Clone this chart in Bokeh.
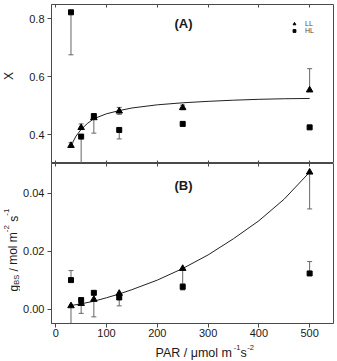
from bokeh.plotting import figure
from bokeh.layouts import column, row
from bokeh.models import (Label, LinearAxis, FixedTicker, Range1d,
                          NumeralTickFormatter, Legend, LegendItem)
from bokeh.core.properties import value
from bokeh.embed import file_html
from bokeh.resources import INLINE

# ---------------- data ----------------
par = [30, 50, 75, 125, 250, 500]

# Panel A: X
x_ll = [0.362, 0.424, 0.458, 0.481, 0.493, 0.554]
x_ll_lo = [0.362, 0.424, 0.458, 0.470, 0.486, 0.554]
x_ll_hi = [0.372, 0.437, 0.458, 0.494, 0.502, 0.628]

x_hl = [0.823, 0.393, 0.464, 0.416, 0.437, 0.425]
x_hl_lo = [0.676, 0.250, 0.405, 0.385, 0.430, 0.420]
x_hl_hi = [0.823, 0.393, 0.464, 0.416, 0.445, 0.430]

fit_par_a = [30, 40, 50, 62, 75, 100, 125, 150, 200, 250, 300, 350, 400, 450, 500]
fit_x = [0.362, 0.395, 0.418, 0.438, 0.455, 0.472, 0.483, 0.492, 0.503, 0.510,
         0.515, 0.519, 0.522, 0.524, 0.525]

# Panel B: gBS
g_ll = [0.0011, 0.0019, 0.0033, 0.0054, 0.0140, 0.0473]
g_ll_lo = [-0.0100, -0.0015, -0.0027, 0.0011, 0.0066, 0.0346]
g_ll_hi = [0.0011, 0.0019, 0.0033, 0.0054, 0.0140, 0.0473]

g_hl = [0.0100, 0.0031, 0.0056, 0.0040, 0.0077, 0.0123]
g_hl_lo = [0.0100, 0.0031, 0.0056, 0.0040, 0.0070, 0.0123]
g_hl_hi = [0.0133, 0.0036, 0.0056, 0.0050, 0.0087, 0.0164]

fit_par_b = [30, 50, 75, 100, 125, 150, 200, 250, 300, 350, 400, 450, 500]
fit_g = [0.0012, 0.0018, 0.0027, 0.0039, 0.0052, 0.0067, 0.0100, 0.0140,
         0.0187, 0.0243, 0.0305, 0.0380, 0.0473]

x_ticks = [0, 100, 200, 300, 400, 500]
ya_ticks = [0.4, 0.6, 0.8]
yb_ticks = [0.0, 0.02, 0.04]

FONT = "Liberation Sans"
AX = "#4a4a4a"
ERR = "#666666"
TXT = "#1a1a1a"
XR = (-8.4, 547)


def make_fig(height, yr, top, bottom):
    p = figure(width=317, height=height, x_range=Range1d(*XR), y_range=Range1d(*yr),
               output_backend="svg", toolbar_location=None,
               x_axis_location=None, y_axis_location=None,
               min_border_left=29, min_border_right=4,
               min_border_top=top, min_border_bottom=bottom)
    p.xgrid.visible = False
    p.ygrid.visible = False
    p.outline_line_color = AX
    p.outline_line_width = 1
    p.background_fill_color = "white"
    p.border_fill_color = "white"
    return p


def helper_fig(width, height):
    h = figure(width=width, height=height, output_backend="svg", toolbar_location=None,
               x_axis_location=None, y_axis_location=None, min_border=0)
    h.xgrid.visible = False
    h.ygrid.visible = False
    h.outline_line_color = None
    h.background_fill_color = "white"
    h.border_fill_color = "white"
    return h


def tick_only_axis(p, where):
    ax = LinearAxis(ticker=FixedTicker(ticks=x_ticks), major_tick_in=3, major_tick_out=0,
                    minor_tick_line_color=None, major_label_text_font_size="0px",
                    major_label_text_color=None, major_label_standoff=0,
                    axis_line_color=None, major_tick_line_color=AX)
    p.add_layout(ax, where)


def y_axis(p, ticks, fmt):
    ax = LinearAxis(ticker=FixedTicker(ticks=ticks), major_tick_in=0, major_tick_out=4,
                    minor_tick_line_color=None, axis_line_color=AX,
                    major_tick_line_color=AX, major_label_standoff=3,
                    formatter=NumeralTickFormatter(format=fmt),
                    major_label_text_font=FONT, major_label_text_font_size="11px",
                    major_label_text_color=TXT)
    p.add_layout(ax, "left")


def errbars(p, xs, ys, lo, hi):
    sx, s0, s1, cx, cy = [], [], [], [], []
    for x, y, a, b in zip(xs, ys, lo, hi):
        if a < y or b > y:
            sx.append(x); s0.append(a); s1.append(b)
        if a < y:
            cx.append(x); cy.append(a)
        if b > y:
            cx.append(x); cy.append(b)
    p.segment(x0=sx, y0=s0, x1=sx, y1=s1, line_color=ERR, line_width=1)
    p.scatter(cx, cy, marker="dash", size=5, line_color=ERR, line_width=1)


def label(fig, t, x, y, fs, angle=0.0, bold=False, align="left", base="alphabetic"):
    fig.add_layout(Label(x=x, y=y, x_units="screen", y_units="screen", text=t,
                         angle=angle, text_font=FONT, text_font_size=fs,
                         text_font_style="bold" if bold else "normal",
                         text_color=TXT, text_align=align, text_baseline=base))


# ---------------- panel A ----------------
pa = make_fig(163, (0.3, 0.85), 4, 0)
y_axis(pa, ya_ticks, "0.0")
tick_only_axis(pa, "below")
tick_only_axis(pa, "above")

pa.line(fit_par_a, fit_x, line_color="#222222", line_width=1)
errbars(pa, par, x_ll, x_ll_lo, x_ll_hi)
errbars(pa, par, x_hl, x_hl_lo, x_hl_hi)
r_ll = pa.scatter(par, x_ll, marker="triangle", size=6.5, color="black")
r_hl = pa.scatter(par, x_hl, marker="square", size=5, color="black")

leg = Legend(items=[LegendItem(label=value("LL"), renderers=[r_ll]),
                    LegendItem(label=value("HL"), renderers=[r_hl])],
             location=(238, 129), orientation="vertical",
             glyph_width=10, glyph_height=7, label_height=7, label_width=10,
             label_standoff=6, spacing=0, padding=0, margin=0,
             label_text_font=FONT, label_text_font_size="7px",
             label_text_color="#444444",
             border_line_color=None, background_fill_alpha=0)
pa.add_layout(leg, "center")
label(pa, "(A)", 123, 140.5, "13px", bold=True)

# ---------------- panel B ----------------
pb = make_fig(178, (-0.005, 0.0503), 0, 18)
y_axis(pb, yb_ticks, "0.00")
tick_only_axis(pb, "above")
bx = LinearAxis(ticker=FixedTicker(ticks=x_ticks), major_tick_in=0, major_tick_out=4,
                minor_tick_line_color=None, axis_line_color=AX, major_tick_line_color=AX,
                major_label_standoff=1, major_label_text_font=FONT,
                major_label_text_font_size="11px", major_label_text_color=TXT)
pb.add_layout(bx, "below")

pb.line(fit_par_b, fit_g, line_color="#222222", line_width=1)
errbars(pb, par, g_ll, g_ll_lo, g_ll_hi)
errbars(pb, par, g_hl, g_hl_lo, g_hl_hi)
pb.scatter(par, g_ll, marker="triangle", size=6.5, color="black")
pb.scatter(par, g_hl, marker="square", size=5, color="black")
label(pb, "(B)", 123, 138, "13px", bold=True)

# ---------------- axis titles (helper strips) ----------------
ylab = helper_fig(20, 361)
R = 1.5708
label(ylab, "X", 8.5, 285.5, "12px", angle=R, align="center", base="middle")
label(ylab, "g", 13.0, 70.0, "12px", angle=R)
label(ylab, "BS", 15.6, 76.7, "7.5px", angle=R)
label(ylab, "/ mol m", 13.0, 90.0, "12px", angle=R)
label(ylab, "-2", 5.8, 129.3, "8px", angle=R)
label(ylab, "s", 13.0, 139.8, "12px", angle=R)
label(ylab, "-1", 5.8, 145.8, "8px", angle=R)

# the strip's frame is aligned with the plots above it (29 px left border)
xlab = helper_fig(317, 20)
label(xlab, "PAR / \u03bcmol m", 104.0, 8.5, "12.5px")
label(xlab, "-1", 182.3, 14.5, "7.5px")
label(xlab, "s", 189.0, 8.5, "12.5px")
label(xlab, "-2", 195.7, 14.5, "7.5px")

layout = row(ylab, column(pa, pb, xlab, spacing=0), spacing=0)
open("out.html", "w").write(file_html(layout, INLINE))
